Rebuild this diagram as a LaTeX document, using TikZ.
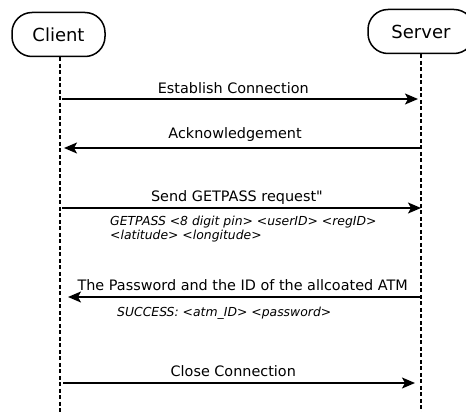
\documentclass[tikz,border=0pt]{standalone}
\usepackage{fontspec}
\setmainfont{DejaVu Sans}
\usetikzlibrary{positioning,calc,arrows.meta}

\tikzset{
  actor/.style={draw, line width=1.5pt, rounded corners=20pt, minimum height=44pt, inner sep=0pt, font=\fontsize{18}{20}\selectfont},
  lifeline/.style={line width=1.5pt, dash pattern=on 4pt off 2.5pt},
  msg/.style={line width=1.5pt, -{Stealth[length=13pt,width=11pt,inset=3pt]}},
  msglabel/.style={anchor=base, yshift=7pt, inner sep=0pt, font=\fontsize{14.4}{16}\selectfont},
  msgnote/.style={anchor=north west, inner sep=0pt, align=left, font=\itshape\fontsize{12.4}{14.5}\selectfont},
}

\begin{document}
\begin{tikzpicture}[x=1pt,y=-1pt]
        \useasboundingbox (0,0) rectangle (466,412);
        % Actors
        \node[actor, minimum width=93pt] (client) at (58.5,34.5) {Client};
        \node[actor, minimum width=106pt] (server) at (421,31.5) {Server};
        % Lifelines
        \coordinate (clientEnd) at (60,412);
        \coordinate (serverEnd) at (421,412);
        \draw[lifeline] (client.south -| clientEnd) -- (clientEnd);
        \draw[lifeline] (server.south) -- (serverEnd);
        % Message points
        \coordinate (c1) at (60,99);    \coordinate (s1) at (421,99);
        \coordinate (c2) at (60,148);   \coordinate (s2) at (421,148);
        \coordinate (c3) at (60,208);   \coordinate (s3) at (421,208);
        \coordinate (c4) at (60,297);   \coordinate (s4) at (421,297);
        \coordinate (c5) at (60,383);   \coordinate (s5) at (421,383);
        % Messages
        \draw[msg, shorten <=2pt, shorten >=3pt] (c1) -- (s1) node[msglabel, pos=0.48, yshift=-2pt] {Establish Connection};
        \draw[msg, shorten >=4pt] (s2) -- (c2) node[msglabel, pos=0.515, yshift=3pt] {Acknowledgement};
        \draw[msg, shorten <=2pt] (c3) -- (s3) node[msglabel, pos=0.49] {Send GETPASS request\textquotedbl};
        \node[msgnote] (getpassNote) at (110,215.5) {GETPASS <8 digit pin> <userID> <regID>\\<latitude> <longitude>};
        \draw[msg, shorten >=8pt] (s4) -- (c4) node[msglabel, pos=0.494] {The Password and the ID of the allcoated ATM};
        \node[msgnote] (successNote) at (117,306.5) {SUCCESS: <atm\_ID> <password>};
        \draw[msg, shorten <=3pt, shorten >=6pt] (c5) -- (s5) node[msglabel, pos=0.48] {Close Connection};
    \end{tikzpicture}
\end{document}
